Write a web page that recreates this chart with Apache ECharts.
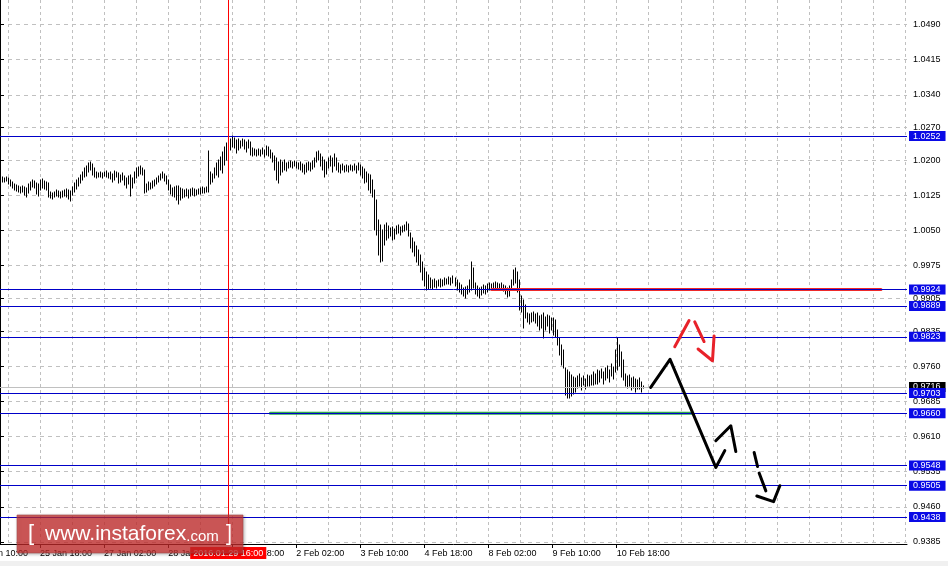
<!DOCTYPE html>
<html><head><meta charset="utf-8">
<script src="https://cdn.jsdelivr.net/npm/echarts/dist/echarts.min.js"></script>
<style>html,body{margin:0;padding:0;background:#fff}#c{width:948px;height:566px}</style>
</head><body><div id="c"></div>
<script>
// ---------- DATA ----------
// H1 bars, first bar = category index 0 (22 Jan 22:00)
const barHigh = [
1.0162,1.0165,1.0162,1.0165,1.0162,1.0158,1.0154,1.0150,1.0147,1.0145,
1.0143,1.0145,1.0143,1.0141,1.0150,1.0154,1.0158,1.0156,1.0152,1.0150,
1.0158,1.0160,1.0156,1.0154,1.0152,1.0132,1.0130,1.0132,1.0137,1.0135,
1.0132,1.0135,1.0137,1.0139,1.0137,1.0135,1.0143,1.0152,1.0158,1.0162,
1.0169,1.0175,1.0184,1.0188,1.0194,1.0197,1.0192,1.0184,1.0175,1.0173,
1.0175,1.0173,1.0175,1.0177,1.0173,1.0175,1.0171,1.0177,1.0175,1.0173,
1.0169,1.0173,1.0167,1.0162,1.0167,1.0169,1.0162,1.0175,1.0184,1.0186,
1.0188,1.0184,1.0179,1.0150,1.0154,1.0152,1.0156,1.0158,1.0162,1.0167,
1.0171,1.0175,1.0171,1.0167,1.0158,1.0147,1.0141,1.0143,1.0145,1.0145,
1.0141,1.0139,1.0137,1.0139,1.0137,1.0139,1.0141,1.0139,1.0137,1.0139,
1.0141,1.0143,1.0141,1.0143,1.0220,1.0175,1.0171,1.0184,1.0194,1.0201,
1.0207,1.0218,1.0229,1.0237,1.0235,1.0246,1.0252,1.0248,1.0244,1.0246,
1.0241,1.0246,1.0244,1.0239,1.0244,1.0239,1.0226,1.0224,1.0222,1.0224,
1.0222,1.0226,1.0222,1.0231,1.0229,1.0222,1.0216,1.0209,1.0205,1.0197,
1.0201,1.0197,1.0201,1.0194,1.0197,1.0199,1.0197,1.0199,1.0197,1.0194,
1.0197,1.0192,1.0190,1.0194,1.0197,1.0194,1.0199,1.0205,1.0218,1.0220,
1.0214,1.0207,1.0201,1.0197,1.0205,1.0209,1.0205,1.0214,1.0205,1.0194,
1.0190,1.0192,1.0188,1.0190,1.0188,1.0190,1.0188,1.0192,1.0188,1.0194,
1.0190,1.0186,1.0182,1.0175,1.0171,1.0169,1.0158,1.0137,1.0115,1.0073,
1.0062,1.0051,1.0062,1.0066,1.0060,1.0056,1.0058,1.0054,1.0060,1.0062,
1.0058,1.0060,1.0062,1.0068,1.0064,1.0045,1.0034,1.0026,1.0017,1.0009,
0.9998,0.9983,0.9970,0.9962,0.9955,0.9949,0.9945,0.9947,0.9943,0.9945,
0.9947,0.9945,0.9949,0.9947,0.9951,0.9949,0.9953,0.9949,0.9945,0.9938,
0.9934,0.9928,0.9930,0.9932,0.9945,0.9983,0.9970,0.9938,0.9932,0.9928,
0.9930,0.9934,0.9932,0.9936,0.9938,0.9936,0.9938,0.9940,0.9938,0.9936,
0.9938,0.9934,0.9932,0.9928,0.9932,0.9945,0.9966,0.9970,0.9962,0.9945,
0.9910,0.9902,0.9891,0.9874,0.9872,0.9874,0.9876,0.9872,0.9874,0.9868,
0.9870,0.9874,0.9865,0.9870,0.9868,0.9863,0.9863,0.9859,0.9838,0.9821,
0.9806,0.9795,0.9757,0.9752,0.9748,0.9742,0.9737,0.9735,0.9740,0.9744,
0.9735,0.9740,0.9733,0.9742,0.9740,0.9742,0.9748,0.9744,0.9752,0.9750,
0.9754,0.9748,0.9757,0.9761,0.9752,0.9765,0.9759,0.9795,0.9821,0.9806,
0.9791,0.9774,0.9744,0.9740,0.9742,0.9735,0.9737,0.9733,0.9731,0.9735,
0.9727,0.9718];
const barLow = [
1.0152,1.0154,1.0154,1.0156,1.0150,1.0145,1.0141,1.0137,1.0135,1.0132,
1.0130,1.0132,1.0126,1.0122,1.0130,1.0137,1.0143,1.0141,1.0128,1.0124,
1.0137,1.0141,1.0139,1.0137,1.0122,1.0120,1.0118,1.0122,1.0124,1.0122,
1.0120,1.0122,1.0124,1.0122,1.0118,1.0113,1.0126,1.0132,1.0139,1.0145,
1.0152,1.0158,1.0165,1.0167,1.0175,1.0179,1.0169,1.0165,1.0162,1.0165,
1.0165,1.0162,1.0167,1.0165,1.0162,1.0160,1.0154,1.0158,1.0165,1.0152,
1.0154,1.0158,1.0147,1.0141,1.0150,1.0124,1.0141,1.0152,1.0162,1.0167,
1.0171,1.0169,1.0130,1.0132,1.0137,1.0139,1.0141,1.0145,1.0150,1.0154,
1.0158,1.0162,1.0156,1.0150,1.0137,1.0128,1.0124,1.0122,1.0115,1.0107,
1.0115,1.0120,1.0122,1.0124,1.0120,1.0124,1.0126,1.0124,1.0126,1.0128,
1.0128,1.0130,1.0130,1.0132,1.0132,1.0150,1.0154,1.0162,1.0169,1.0165,
1.0179,1.0173,1.0190,1.0201,1.0205,1.0222,1.0229,1.0226,1.0216,1.0222,
1.0226,1.0231,1.0224,1.0218,1.0226,1.0212,1.0209,1.0212,1.0209,1.0212,
1.0209,1.0214,1.0207,1.0212,1.0209,1.0205,1.0197,1.0179,1.0158,1.0152,
1.0169,1.0175,1.0179,1.0177,1.0184,1.0186,1.0184,1.0188,1.0184,1.0182,
1.0179,1.0175,1.0171,1.0175,1.0179,1.0177,1.0182,1.0186,1.0197,1.0201,
1.0188,1.0179,1.0165,1.0171,1.0184,1.0188,1.0175,1.0188,1.0179,1.0175,
1.0173,1.0179,1.0175,1.0177,1.0175,1.0179,1.0177,1.0179,1.0173,1.0179,
1.0169,1.0162,1.0152,1.0154,1.0137,1.0130,1.0122,1.0051,1.0041,0.9998,
0.9983,0.9985,1.0019,1.0030,1.0034,1.0039,1.0030,1.0032,1.0043,1.0045,
1.0041,1.0047,1.0049,1.0051,1.0039,1.0013,1.0004,0.9996,0.9983,0.9977,
0.9962,0.9945,0.9932,0.9923,0.9925,0.9928,0.9925,0.9930,0.9928,0.9932,
0.9930,0.9932,0.9934,0.9936,0.9936,0.9934,0.9938,0.9932,0.9923,0.9919,
0.9915,0.9910,0.9906,0.9915,0.9919,0.9923,0.9928,0.9915,0.9910,0.9906,
0.9913,0.9917,0.9915,0.9919,0.9923,0.9925,0.9925,0.9928,0.9928,0.9923,
0.9925,0.9921,0.9915,0.9908,0.9910,0.9923,0.9934,0.9938,0.9919,0.9881,
0.9876,0.9842,0.9863,0.9855,0.9851,0.9855,0.9857,0.9853,0.9846,0.9838,
0.9842,0.9821,0.9838,0.9846,0.9831,0.9838,0.9827,0.9823,0.9806,0.9784,
0.9763,0.9757,0.9699,0.9692,0.9692,0.9697,0.9701,0.9705,0.9714,0.9718,
0.9710,0.9720,0.9712,0.9718,0.9718,0.9720,0.9720,0.9722,0.9722,0.9727,
0.9735,0.9722,0.9731,0.9735,0.9727,0.9740,0.9733,0.9748,0.9752,0.9761,
0.9737,0.9731,0.9718,0.9714,0.9718,0.9710,0.9714,0.9705,0.9712,0.9712,
0.9705,0.9714];

const yTicks = [1.0490,1.0415,1.0340,1.0270,1.0200,1.0125,1.0050,0.9975,0.9905,0.9835,0.9760,0.9685,0.9610,0.9535,0.9460,0.9385];
const levels = [1.0252,0.9924,0.9889,0.9823,0.9703,0.9660,0.9548,0.9505,0.9438];
const currentPrice = 0.9716;
const crosshairIndex = 114;           // 29 Jan 16:00
const crosshairLabel = '2016.01.29 16:00';
const offscreenLabel = '22 Jan 10:00';
// hand-drawn strokes: [bar index, price]
const resistanceSeg = [[245.5,0.9924],[440,0.9924]];
const supportSeg = [[135,0.9660],[346,0.9660]];
const blackPath1 = [[325,0.9715],[334.65,0.9775],[357.5,0.9544],[362,0.9580]];
const blackPath2 = [[357.5,0.9601],[365,0.9633],[367.5,0.9578]];
const blackDash1 = [[376.65,0.9576],[378.35,0.9546]];
const blackDash2 = [[379.15,0.9532],[382.5,0.9494]];
const blackDash3 = [[378,0.9483],[386.35,0.9471],[389.5,0.9505]];
const redDash1 = [[337,0.9802],[344.15,0.9858]];
const redDash2 = [[347,0.9855],[351.65,0.9813]];
const redDash3 = [[348.65,0.9797],[355.85,0.9772],[356.65,0.9825]];

// ---------- AXES ----------
const N_CATS = 454;
const Y_MIN = 0.938047, Y_MAX = 1.054262;
const monthNames = ['Jan','Feb','Mar'];
const timeCats = [];
(function(){
  let t = Date.UTC(2016,0,22,22);
  while (timeCats.length < N_CATS) {
    const d = new Date(t), wd = d.getUTCDay();
    if (wd !== 0 && wd !== 6) timeCats.push(d.getUTCDate()+' '+monthNames[d.getUTCMonth()]+' '+String(d.getUTCHours()).padStart(2,'0')+':00');
    t += 3600000;
  }
})();
const lastBar = barHigh.length - 1;
const showTick = (i) => (i + 12) % 32 === 0 && i <= lastBar;
const showGrid = (i) => (i + 12) % 16 === 0;
const barData = barHigh.map((h,i)=>[i, barLow[i], h]);
const FONT = '"Liberation Sans", Arial, sans-serif';

const lvlLabel = (txt,bg) => ({show:true, position:'end', formatter:txt, backgroundColor:bg, color:'#fff',
  padding:[1,5,0,4], fontSize:9, lineHeight:9, fontFamily:FONT, distance:2});

const markData = [
  {yAxis: currentPrice, lineStyle:{color:'#c0c0c0', width:1, type:'solid'}, label: lvlLabel(currentPrice.toFixed(4),'#000')}
].concat(levels.map(v=>({yAxis:v, lineStyle:{color:'#0000c8', width:1, type:'solid'}, label: lvlLabel(v.toFixed(4),'#0a0ae6')})))
 .concat([{xAxis: crosshairIndex, lineStyle:{color:'#ff0000', width:1, type:'solid'},
   label:{show:true, position:'start', formatter:crosshairLabel, backgroundColor:'#ff0000', color:'#fff',
     padding:[2,3,1,3], fontSize:9, fontFamily:FONT, distance:3}}]);

function stroke(data, color, width, z){
  return {type:'line', xAxisIndex:1, data:data, symbol:'none', silent:true, z:z||5,
    lineStyle:{color:color, width:width, cap:'round', join:'round'}};
}

const chart = echarts.init(document.getElementById('c'), null, {renderer:'canvas'});
chart.setOption({
  animation:false,
  backgroundColor:'#ffffff',
  grid:{left:0, right:41, top:0, bottom:22, containLabel:false},
  xAxis:[{
    type:'category', data:timeCats, boundaryGap:false,
    axisLine:{show:true, lineStyle:{color:'#000', width:1}},
    axisTick:{show:true, interval:(i)=>showTick(i), length:4, lineStyle:{color:'#000'}},
    axisLabel:{show:true, interval:(i)=>showTick(i), align:'left', margin:5, color:'#000', fontSize:9, fontFamily:FONT},
    splitLine:{show:true, interval:(i)=>showGrid(i), lineStyle:{color:'#c0c0c0', type:[3,3], width:1}}
  },{
    type:'value', min:0, max:N_CATS-1, show:false, gridIndex:0, splitLine:{show:false}
  }],
  yAxis:{
    type:'value', position:'right', min:Y_MIN, max:Y_MAX,
    axisLine:{show:true, lineStyle:{color:'#000', width:1}},
    axisTick:{show:true, customValues:yTicks, length:4, lineStyle:{color:'#000'}},
    axisLabel:{show:true, customValues:yTicks, formatter:(v)=>v.toFixed(4), margin:6, color:'#000', fontSize:9, fontFamily:FONT},
    splitLine:{show:true, lineStyle:{color:'#c0c0c0', type:[4,4], width:1}}
  },
  series:[
    {
      type:'custom', name:'bars', data:barData, z:3, silent:true,
      encode:{x:0, y:[1,2]},
      renderItem:function(params, api){
        const lo = api.coord([api.value(0), api.value(1)]);
        const hi = api.coord([api.value(0), api.value(2)]);
        const px = Math.round(lo[0]) + 0.5;
        return {type:'line', shape:{x1:px, y1:Math.round(lo[1])+0.5, x2:px, y2:Math.round(hi[1])-0.5},
          style:{stroke:'#000', lineWidth:1}};
      }
    },
    {
      type:'line', name:'levels', xAxisIndex:1, data:[[0, currentPrice]], symbol:'none', showSymbol:false,
      lineStyle:{width:0}, silent:true, z:4,
      markLine:{symbol:['none','none'], precision:6, silent:true, animation:false, data:markData}
    },
    stroke(resistanceSeg,'#ee2a2a',3,4),
    stroke(supportSeg,'#2ea84a',3,4),
    stroke(blackPath1,'#000',3),
    stroke(blackPath2,'#000',3),
    stroke(blackDash1,'#000',3),
    stroke(blackDash2,'#000',3),
    stroke(blackDash3,'#000',3),
    stroke(redDash1,'#e8222a',3),
    stroke(redDash2,'#e8222a',3),
    stroke(redDash3,'#e8222a',3)
  ],
  graphic:[
    {type:'rect', z:-1, shape:{x:0, y:561, width:948, height:5}, style:{fill:'#f0f0f0'}},
    {type:'text', z:1, style:{x:-24, y:549, text:offscreenLabel, fill:'#000', font:'9px "Liberation Sans"', verticalAlign:'top', align:'left'}},
    {type:'rect', z:100, shape:{x:17, y:515, width:226, height:38},
      style:{fill:'rgba(205,45,45,0.72)', stroke:'rgba(160,70,70,0.6)', lineWidth:1,
        shadowBlur:3, shadowColor:'rgba(0,0,0,0.35)', shadowOffsetX:1, shadowOffsetY:1}},
    {type:'text', z:101, style:{x:28, y:534, text:'[', fill:'#fff', font:'22px "Liberation Sans"', verticalAlign:'middle', align:'left'}},
    {type:'text', z:101, style:{x:45, y:534, text:'{a|www.instaforex}{b|.com}', fill:'#fff', verticalAlign:'middle', align:'left',
      rich:{a:{fontSize:21, fontFamily:'Liberation Sans', fill:'#fff', color:'#fff', verticalAlign:'bottom'},
            b:{fontSize:15, fontFamily:'Liberation Sans', fill:'#fff', color:'#fff', verticalAlign:'bottom'}}}},
    {type:'text', z:101, style:{x:226, y:534, text:']', fill:'#fff', font:'22px "Liberation Sans"', verticalAlign:'middle', align:'left'}}
  ]
});
</script></body></html>
